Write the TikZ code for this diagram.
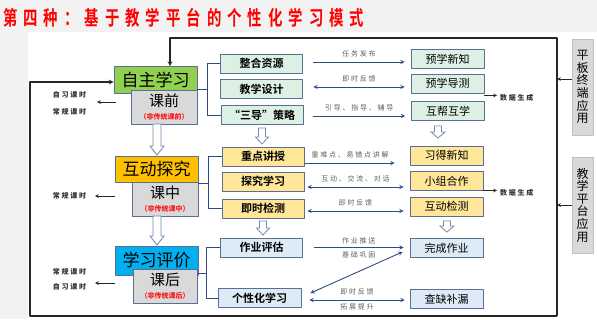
\documentclass[tikz,border=0pt]{standalone}
\usepackage{fontspec}
\setmainfont{Noto Sans CJK SC}[BoldFont={Noto Sans CJK SC Bold}]
\newfontfamily\titlefont{Noto Sans CJK SC Bold}[FakeStretch=0.72,LetterSpace=30]
\newfontfamily\spacedfont{Noto Sans CJK SC}[LetterSpace=25]
\definecolor{phgreen}{HTML}{92D050}
\definecolor{phorange}{HTML}{FFC000}
\definecolor{phblue}{HTML}{00B0F0}
\definecolor{classgray}{HTML}{D9D9D9}
\definecolor{edgeblue}{HTML}{5B6F92}
\definecolor{mint}{HTML}{DDF0E4}
\definecolor{paleorange}{HTML}{FFE699}
\definecolor{paleblue}{HTML}{DDEBF7}
\definecolor{navy}{HTML}{2F4B84}
\definecolor{labelgray}{HTML}{606060}
\definecolor{hollowedge}{HTML}{7388B0}
\definecolor{bggray}{HTML}{F2F2F2}
\tikzset{
  phase/.style={draw=edgeblue, line width=0.8pt, inner sep=0pt, minimum width=83pt, minimum height=27pt, font=\fontsize{17}{17}\selectfont},
  classbox/.style={draw=edgeblue, line width=0.8pt, fill=classgray, inner sep=0pt, minimum width=66pt, minimum height=34pt, align=center, font=\fontsize{15}{16}\selectfont},
  stagebox/.style={draw=edgeblue, line width=0.8pt, inner sep=0pt, minimum width=82pt, minimum height=19pt, font=\fontsize{11}{11}\selectfont\bfseries},
  resultbox/.style={draw=edgeblue, line width=0.8pt, inner sep=0pt, minimum width=73pt, minimum height=19pt, font=\fontsize{11}{11}\selectfont},
  sidebox/.style={draw=black!25, fill=classgray, inner sep=0pt, minimum width=21pt, minimum height=96pt, align=center, font=\fontsize{12}{12.6}\selectfont},
  flowline/.style={draw=navy, line width=0.9pt},
  arrowtag/.style={text=labelgray, font=\spacedfont\fontsize{7}{7}\selectfont, inner sep=1pt},
  sidenote/.style={text=black!80, font=\spacedfont\fontsize{7}{7}\selectfont\bfseries, inner sep=1pt},
  thinarrow/.style={->, black!85, line width=0.7pt},
  loopline/.style={black!85, line width=1.1pt},
}
% hollow block arrow: x, top, bottom, half shaft, half head, head length
\newcommand{\hollowdown}[6]{%
  \draw[draw=hollowedge, fill=white, line width=0.8pt, line join=miter]
    (#1-#4,#2) -- (#1-#4,#3-#6) -- (#1-#5,#3-#6) -- (#1,#3) -- (#1+#5,#3-#6) -- (#1+#4,#3-#6) -- (#1+#4,#2) -- cycle;}
\begin{document}
\begin{tikzpicture}[x=1pt, y=-1pt, line join=round, >=stealth]
\useasboundingbox (0,0) rectangle (597,319);
\fill[bggray] (0,0) rectangle (597,319);
\fill[white] (28,32) rectangle (597,319);

\node[anchor=west, text=red, inner sep=0pt, font=\titlefont\fontsize{20}{20}\selectfont] (title) at (3,18) {第四种：基于教学平台的个性化学习模式};

% phases
\node[phase, fill=phgreen] (zzxx) at (155.5,80) {自主学习};
\node[classbox] (kq) at (164,107.5) {课前\\[-3pt]{\color{red}\fontsize{7}{8}\selectfont\bfseries（非传统课前）}};
\node[phase, fill=phorange, minimum height=26pt] (hdtj) at (156.5,169) {互动探究};
\node[classbox] (kz) at (165,199) {课中\\[-3pt]{\color{red}\fontsize{7}{8}\selectfont\bfseries（非传统课中）}};
\node[phase, fill=phblue, minimum height=29pt] (xxpj) at (156.5,260.5) {学习评价};
\node[classbox, minimum width=64pt] (kh) at (165,286) {课后\\[-3pt]{\color{red}\fontsize{7}{8}\selectfont\bfseries（非传统课后）}};

\hollowdown{157}{124}{155}{4}{7}{9}
\hollowdown{157}{216}{245}{4}{7}{9}

% lesson time notes
\node[sidenote] (zxks1) at (69.5,95) {自习课时};
\node[sidenote] (cgks1) at (69.5,112) {常规课时};
\node[sidenote] (cgks2) at (69.5,196) {常规课时};
\node[sidenote] (cgks3) at (69.5,272) {常规课时};
\node[sidenote] (zxks3) at (69.5,287) {自习课时};
\coordinate (t1) at (116,102); \coordinate (u1) at (97,102);
\coordinate (t2) at (115,196); \coordinate (u2) at (95,196);
\coordinate (t3) at (115,283); \coordinate (u3) at (95,283);
\draw[thinarrow] (t1) -- (u1);
\draw[thinarrow] (t2) -- (u2);
\draw[thinarrow] (t3) -- (u3);

% teaching steps
\node[stagebox, fill=mint] (zhzy) at (261.5,63.5) {整合资源};
\node[stagebox, fill=mint] (jxsj) at (261.5,89) {教学设计};
\node[stagebox, fill=mint] (sdcl) at (262,115) {“三导”策略};
\node[stagebox, fill=paleorange] (zdjs) at (263,156.5) {重点讲授};
\node[stagebox, fill=paleorange] (tjxx) at (263,181.5) {探究学习};
\node[stagebox, fill=paleorange] (jsjc) at (263,208.5) {即时检测};
\node[stagebox, fill=paleblue] (zypg) at (261.5,247.5) {作业评估};
\node[stagebox, fill=paleblue, minimum width=83pt] (gxhxx) at (259.5,298) {个性化学习};

\draw[flowline] ([yshift=-9pt]zzxx.east) -- ++(11,0);
\draw[flowline] (zhzy.west) -- ++(-13,0) |- (sdcl.west);
\draw[flowline] ([yshift=-14pt]hdtj.east) -- ++(11,0);
\draw[flowline] (zdjs.west) -- ++(-13,0) |- (jsjc.west);
\draw[flowline] ([yshift=-12.5pt]xxpj.east) -- ++(9,0);
\draw[flowline] (zypg.west) -- ++(-14,0) |- (gxhxx.west);

\hollowdown{262}{128}{144}{3.5}{6.5}{7}
\hollowdown{263}{221}{235}{3.5}{6.5}{7}

% student outcomes
\node[resultbox, fill=mint] (yxxz) at (447.5,59) {预学新知};
\node[resultbox, fill=mint] (yxdc) at (447.5,83.5) {预学导测};
\node[resultbox, fill=mint] (hbhx) at (448,111) {互帮互学};
\node[resultbox, fill=paleorange] (xdxz) at (446.5,155.5) {习得新知};
\node[resultbox, fill=paleorange] (xzhz) at (446.5,181) {小组合作};
\node[resultbox, fill=paleorange] (hdjc) at (446.5,206.5) {互动检测};
\node[resultbox, fill=paleblue] (wczy) at (446.5,248) {完成作业};
\node[resultbox, fill=paleblue] (qqbl) at (446.5,299) {查缺补漏};

\hollowdown{438}{126}{138}{3.5}{7}{6}
\hollowdown{447}{221}{232}{3.5}{7}{6}

% links between steps and outcomes
\draw[flowline,->] ([xshift=10.5pt,yshift=1.5pt]zhzy.east) -- ([xshift=-6pt,yshift=1.5pt]zhzy.east -| yxxz.west)
  node[arrowtag, midway, above=3pt] {任务发布};
\draw[flowline,<->] ([xshift=10.5pt,yshift=2pt]jxsj.east) -- ([xshift=-6pt,yshift=2pt]jxsj.east -| yxdc.west)
  node[arrowtag, midway, above=3pt] {即时反馈};
\draw[flowline,->] ([xshift=10pt,yshift=-1pt]sdcl.east) -- ([xshift=-6pt,yshift=-1pt]sdcl.east -| hbhx.west)
  node[arrowtag, midway, above=3pt] {引导、指导、辅导};
\draw[flowline,->] ([xshift=1pt,yshift=-6.5pt]zdjs.east) -- ([xshift=-15pt,yshift=-6.5pt]zdjs.east -| xdxz.west)
  node[arrowtag, midway, above=3pt] {重难点、易错点讲解};
\draw[flowline,<->] ([xshift=3pt,yshift=-5.5pt]tjxx.east) -- ([xshift=-6pt,yshift=-5.5pt]tjxx.east -| xzhz.west)
  node[arrowtag, midway, above=3pt] {互动、交流、对话};
\draw[flowline,<->] ([xshift=3pt,yshift=-2.5pt]jsjc.east) -- ([xshift=-6pt,yshift=-2.5pt]jsjc.east -| hdjc.west)
  node[arrowtag, midway, above=3pt] {即时反馈};
\draw[flowline,->] ([xshift=11pt]zypg.east) -- ([xshift=-6pt]zypg.east -| wczy.west)
  node[arrowtag, midway, above=2pt] {作业推送}
  node[arrowtag, midway, below=3pt] {基础巩固};
\draw[flowline,<->] ([xshift=9pt,yshift=-5pt]gxhxx.north east) -- ([xshift=-7pt,yshift=6pt]wczy.south west);
\draw[flowline,<->] ([xshift=8pt,yshift=-2pt]gxhxx.east) -- ([xshift=-5pt,yshift=-2pt]gxhxx.east -| qqbl.west)
  node[arrowtag, midway, above=3pt] {即时反馈}
  node[arrowtag, midway, below=2pt] {拓展提升};

% data generation
\node[sidenote, anchor=west] (sjsc1) at (499,98) {数据生成};
\node[sidenote, anchor=west] (sjsc2) at (499,193) {数据生成};
\draw[thinarrow] ([yshift=-2pt]yxdc.south east) -- ([xshift=-2pt,yshift=-2pt]yxdc.south east -| sjsc1.west);
\draw[thinarrow] ([yshift=0.5pt]xzhz.south east) -- ([xshift=-2pt,yshift=0.5pt]xzhz.south east -| sjsc2.west);

% platform feedback loop
\node[sidebox] (pbzd) at (582.5,87) {平\\板\\终\\端\\应\\用};
\node[sidebox] (jxpt) at (582.5,205) {教\\学\\平\\台\\应\\用};
\coordinate (cr) at (557,316);
\coordinate (cl) at (30,316);
\draw[thinarrow] ([yshift=8pt]pbzd.west) -- ([yshift=8pt]pbzd.west -| cr);
\draw[thinarrow] (jxpt.west) -- (jxpt.west -| cr);
\draw[loopline,->] (cr) -- (557,38) -- (170,38) -- ([xshift=14.5pt]zzxx.north);
\draw[loopline,->] (cr) -- (cl) -- (30,82) -- ([yshift=-2pt]zzxx.west);
\end{tikzpicture}
\end{document}
